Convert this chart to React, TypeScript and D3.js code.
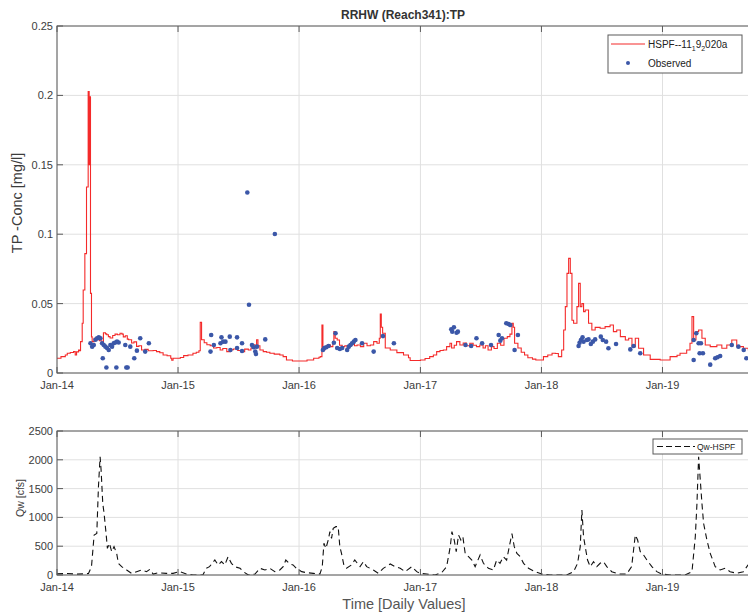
import React from "react";
import * as d3 from "d3";

// Daily series are indexed by day offset from 2014-01-01 (UTC).
const START = Date.UTC(2014, 0, 1);
const END_DAY = 2099;

// Simulated total phosphorus, HSPF run (day offset, mg/l)
const tpDay = [
  0, 12, 25, 31, 40, 50, 55, 59, 65, 68, 71, 76, 79, 84, 89, 94, 97, 99, 101, 104,
  106, 112, 120, 128, 135, 140, 146, 150, 155, 160, 168, 175, 182, 190, 196, 200, 206, 212, 216, 225,
  232, 240, 247, 255, 265, 275, 290, 300, 310, 320, 332, 343, 346, 350, 362,
  372, 382, 395, 410, 420, 428, 432, 436, 444, 452, 462, 472, 482, 492, 500, 512, 522, 532, 545, 557,
  566, 577, 585, 592, 597, 602, 606, 612, 622, 632, 642, 655, 672, 682, 692, 710,
  724, 754, 774, 790, 794, 799, 802, 808, 815, 825, 832, 835, 839, 845, 852, 860, 868, 875, 882, 890,
  897, 905, 915, 925, 935, 945, 955, 965, 972, 975, 978, 982, 990, 1005, 1025, 1045, 1060, 1065, 1096,
  1110, 1124, 1135, 1145, 1155, 1165, 1175, 1185, 1190, 1198, 1205, 1215, 1225, 1235, 1245, 1255, 1265,
  1275, 1285, 1292, 1300, 1310, 1318, 1328, 1338, 1348, 1358, 1366, 1372, 1376, 1380, 1390, 1400, 1410,
  1420, 1434, 1444,
  1467, 1480, 1493, 1503, 1512, 1522, 1528, 1533, 1538, 1543, 1548, 1553, 1558, 1568, 1573, 1578, 1583,
  1588, 1593, 1603, 1613, 1623, 1638, 1653, 1668, 1678, 1688, 1699, 1714, 1724, 1734, 1744, 1754, 1769,
  1789, 1819,
  1849, 1870, 1879, 1899, 1909, 1915, 1920, 1927, 1935, 1945, 1955, 1970, 1990, 2005, 2020, 2035, 2050,
  2070, 2085, 2099,
];
const tpValue = [
  0.0106, 0.0118, 0.013, 0.0142, 0.0148, 0.0154, 0.013, 0.0152, 0.0166, 0.016, 0.0226, 0.0358, 0.0598, 0.086, 0.134, 0.2027, 0.15, 0.199, 0.0574, 0.026,
  0.0226, 0.025, 0.024, 0.0232, 0.0216, 0.029, 0.0282, 0.0276, 0.0262, 0.0252, 0.027, 0.028, 0.0276, 0.0286, 0.028, 0.026, 0.0268, 0.0244, 0.024, 0.0216,
  0.0224, 0.0192, 0.0196, 0.0166, 0.017, 0.016, 0.0162, 0.0154, 0.0146, 0.013, 0.0124, 0.0106, 0.0092, 0.0106, 0.0106,
  0.0112, 0.0125, 0.013, 0.0142, 0.015, 0.016, 0.0365, 0.024, 0.0218, 0.0204, 0.0196, 0.018, 0.0184, 0.0166, 0.0176, 0.0154, 0.0168, 0.0173, 0.0162, 0.0154,
  0.0172, 0.0166, 0.018, 0.0204, 0.018, 0.024, 0.0196, 0.0166, 0.0154, 0.015, 0.0142, 0.0136, 0.013, 0.0118, 0.0094, 0.0086,
  0.0086, 0.0094, 0.0106, 0.0114, 0.0118, 0.0346, 0.0166, 0.019, 0.0202, 0.019, 0.022, 0.0298, 0.025, 0.0238, 0.02, 0.019, 0.0196, 0.018, 0.02, 0.0214,
  0.0196, 0.0202, 0.019, 0.0214, 0.0196, 0.0202, 0.0226, 0.0214, 0.025, 0.0425, 0.033, 0.0286, 0.018, 0.0166, 0.0147, 0.013, 0.011, 0.009, 0.0094,
  0.0104, 0.0118, 0.013, 0.0154, 0.0162, 0.0166, 0.019, 0.0214, 0.018, 0.02, 0.0226, 0.0202, 0.0216, 0.0196, 0.0214, 0.02, 0.019,
  0.0202, 0.018, 0.0196, 0.0166, 0.019, 0.0176, 0.0214, 0.02, 0.025, 0.0262, 0.028, 0.0358, 0.033, 0.0214, 0.018, 0.015, 0.013,
  0.011, 0.01, 0.0094,
  0.0118, 0.013, 0.0142, 0.014, 0.0118, 0.0166, 0.031, 0.0478, 0.0718, 0.0826, 0.0718, 0.038, 0.0358, 0.0478, 0.0646, 0.0478, 0.05,
  0.0442, 0.0454, 0.0358, 0.031, 0.0329, 0.0322, 0.0334, 0.0346, 0.0298, 0.031, 0.0262, 0.0238, 0.025, 0.019, 0.025, 0.0178, 0.013,
  0.0098, 0.0094,
  0.0118, 0.0128, 0.0142, 0.0166, 0.0214, 0.0406, 0.0238, 0.0298, 0.031, 0.025, 0.0202, 0.019, 0.0202, 0.0178, 0.0202, 0.0238, 0.019,
  0.0178, 0.0166, 0.0166,
];

// Observed TP samples (day offset, mg/l)
const obsDay = [
  101, 106, 111, 116, 121, 126, 131, 136, 141, 146, 151, 156, 161, 166, 171, 176, 181, 186, 138, 149,
  179, 209, 213, 206, 221, 233, 241, 251, 266, 277,
  465, 463, 473, 493, 496, 501, 508, 521, 523, 543, 543, 558, 558, 574, 579, 588, 593, 598, 600, 603, 628, 657,
  802, 806, 812, 819, 840, 835, 845, 853, 860, 875, 880, 885, 890, 895, 900, 920, 955, 983, 1016,
  1189, 1192, 1197, 1205, 1209, 1232, 1249, 1265, 1282, 1309, 1332, 1337, 1342, 1355, 1362, 1367, 1380, 1390,
  1573, 1576, 1580, 1585, 1588, 1598, 1603, 1610, 1616, 1623, 1640, 1646, 1656, 1663, 1686, 1729, 1739, 1759,
  1920, 1928, 1935, 1942, 1920, 1938, 1948, 1970, 1985, 1992, 2000, 2035, 2055, 2071, 2079,
];
const obsValue = [
  0.0214, 0.019, 0.0202, 0.024, 0.025, 0.0257, 0.025, 0.0214, 0.0202, 0.019, 0.018, 0.0166, 0.0202, 0.019, 0.0214, 0.022, 0.0226, 0.022, 0.0106, 0.004,
  0.004, 0.004, 0.004, 0.0202, 0.019, 0.0106, 0.0161, 0.025, 0.0154, 0.0214,
  0.0274, 0.0154, 0.0202, 0.0214, 0.0257, 0.0226, 0.0226, 0.0262, 0.0166, 0.0257, 0.018, 0.0214, 0.0159, 0.13, 0.0492, 0.0202, 0.0185, 0.0154, 0.0137, 0.019, 0.0242, 0.1001,
  0.0166, 0.018, 0.0185, 0.0194, 0.0286, 0.0218, 0.018, 0.0173, 0.018, 0.0166, 0.019, 0.0202, 0.0214, 0.0226, 0.0238, 0.0214, 0.0154, 0.0266, 0.0214,
  0.0315, 0.0298, 0.0329, 0.029, 0.0298, 0.0202, 0.0194, 0.025, 0.0214, 0.0202, 0.0274, 0.0233, 0.025, 0.0358, 0.0353, 0.0346, 0.0166, 0.0274,
  0.0195, 0.0218, 0.0238, 0.0257, 0.0226, 0.0238, 0.0242, 0.0209, 0.0226, 0.0242, 0.0262, 0.0238, 0.0226, 0.0178, 0.0209, 0.017, 0.0195, 0.0142,
  0.0238, 0.0286, 0.0214, 0.0214, 0.0094, 0.0142, 0.0142, 0.006, 0.0106, 0.0113, 0.0122, 0.0202, 0.019, 0.0166, 0.0106,
];

// Simulated flow, HSPF run (day offset, cfs)
const flowDay = [
  0, 30, 60, 95, 104, 112, 120, 125, 130, 133, 138, 142, 148, 152, 158, 165, 172, 180, 185, 195,
  210, 225, 240, 255, 270, 280, 290, 305, 330, 350, 370, 390, 410, 440, 450, 460, 476, 486, 496, 506,
  516, 526, 536, 552, 562, 577, 597, 612, 627, 642, 657, 672, 682, 690, 702, 712, 722, 738, 753, 773,
  793, 800, 805, 811, 818, 823, 828, 833, 841, 848, 853, 858, 865, 873, 888, 898, 914, 924, 934, 954,
  969, 984, 1005, 1020, 1035, 1050, 1070, 1085, 1095, 1115, 1140, 1160, 1175, 1186, 1191, 1198, 1204,
  1211, 1218, 1224, 1231, 1241, 1251, 1261, 1276, 1286, 1301, 1316, 1326, 1336, 1346, 1356, 1364, 1372,
  1379, 1387, 1397, 1407, 1422, 1442, 1462, 1487, 1537, 1558, 1570, 1578, 1583, 1588, 1593, 1600, 1608,
  1618, 1628, 1638, 1648, 1658, 1673, 1693, 1718, 1733, 1744, 1751, 1759, 1769, 1779, 1794, 1809, 1824,
  1849, 1894, 1915, 1925, 1930, 1935, 1940, 1945, 1950, 1960, 1970, 1985, 2000, 2015, 2030, 2050, 2070,
  2084, 2099,
];
const flowValue = [
  20, 25, 15, 25, 145, 694, 720, 1533, 2054, 1822, 1244, 1070, 720, 463, 550, 405, 492, 376, 203, 145,
  87, 29, 58, 87, 58, 98, 17, 40, 29, 29, 58, 17, 0, 0, 116, 145, 260, 174, 232, 174,
  318, 203, 145, 116, 58, 0, 17, 116, 87, 116, 58, 87, 145, 260, 191, 174, 116, 58, 40, 29,
  17, 145, 550, 463, 607, 752, 636, 810, 839, 839, 492, 376, 174, 116, 174, 260, 145, 232, 145, 87,
  29, 116, 191, 145, 116, 58, 145, 58, 29, 17, 0, 40, 145, 492, 752, 607, 405,
  694, 607, 665, 376, 318, 260, 145, 347, 203, 116, 87, 260, 203, 318, 260, 492, 720,
  492, 376, 318, 203, 116, 58, 17, 0, 0, 58, 203, 492, 1128, 665, 492, 260, 145,
  232, 145, 203, 232, 145, 58, 17, 17, 145, 694, 607, 405, 347, 260, 145, 58, 17,
  0, 0, 58, 665, 1244, 2054, 1649, 1244, 897, 607, 376, 145, 87, 116, 58, 29, 58,
  174, 200,
];

const tpTicks = [0, 0.05, 0.1, 0.15, 0.2, 0.25];
const flowTicks = [0, 500, 1000, 1500, 2000, 2500];
const yearTicks = [2014, 2015, 2016, 2017, 2018, 2019];

const W = 748;
const H = 615;
const LEFT = 57;
const RIGHT = 753;
const TOP1 = 26;
const BOT1 = 373;
const TOP2 = 431;
const BOT2 = 575;

const FONT = "'Liberation Sans', Arial, Helvetica, sans-serif";
const AXIS = "#5a5a5a";
const GRID = "#e0e0e0";
const TEXT = "#3c3c3c";
const RED = "#f42a2a";
const BLUE = "#3b57a8";

const dayDate = (d: number) => new Date(START + d * 86400000);

export default function App() {
  const x = d3.scaleUtc().domain([dayDate(0), dayDate(END_DAY)]).range([LEFT, RIGHT]);
  const y1 = d3.scaleLinear().domain([0, 0.25]).range([BOT1, TOP1]);
  const y2 = d3.scaleLinear().domain([0, 2500]).range([BOT2, TOP2]);
  const fmt = d3.utcFormat("%b-%y");
  const tickDates = yearTicks.map((yr) => new Date(Date.UTC(yr, 0, 1)));

  const tpLine = d3
    .line<number>()
    .x((_, i) => x(dayDate(tpDay[i])))
    .y((v) => y1(v))
    .curve(d3.curveStepAfter);
  const flowLine = d3
    .line<number>()
    .x((_, i) => x(dayDate(flowDay[i])))
    .y((v) => y2(v));

  const grid = (top: number, bottom: number, yScale: d3.ScaleLinear<number, number>, ticks: number[]) => (
    <g>
      {tickDates.map((d, i) => (
        <line key={"gx" + i} x1={x(d)} x2={x(d)} y1={top} y2={bottom} stroke={GRID} strokeWidth={1} />
      ))}
      {ticks.map((t, i) => (
        <line key={"gy" + i} x1={LEFT} x2={RIGHT} y1={yScale(t)} y2={yScale(t)} stroke={GRID} strokeWidth={1} />
      ))}
    </g>
  );

  const axes = (top: number, bottom: number, yScale: d3.ScaleLinear<number, number>, ticks: number[], labelY: number) => (
    <g>
      <rect x={LEFT} y={top} width={RIGHT - LEFT} height={bottom - top} fill="none" stroke={AXIS} strokeWidth={1} />
      {tickDates.map((d, i) => (
        <g key={"tx" + i}>
          <line x1={x(d)} x2={x(d)} y1={bottom} y2={bottom - 6} stroke={AXIS} />
          <line x1={x(d)} x2={x(d)} y1={top} y2={top + 6} stroke={AXIS} />
          <text x={x(d)} y={labelY} textAnchor="middle" fontSize={11} fill={TEXT} fontFamily={FONT}>
            {fmt(d)}
          </text>
        </g>
      ))}
      {ticks.map((t, i) => (
        <g key={"ty" + i}>
          <line x1={LEFT} x2={LEFT + 6} y1={yScale(t)} y2={yScale(t)} stroke={AXIS} />
          <text x={LEFT - 4} y={yScale(t) + 4} textAnchor="end" fontSize={11} fill={TEXT} fontFamily={FONT}>
            {String(t)}
          </text>
        </g>
      ))}
    </g>
  );

  return (
    <svg width={W} height={H} style={{ position: "absolute", left: 0, top: 0, background: "#fff" }}>
      <defs>
        <clipPath id="clipTop">
          <rect x={LEFT} y={TOP1} width={RIGHT - LEFT} height={BOT1 - TOP1} />
        </clipPath>
        <clipPath id="clipBottom">
          <rect x={LEFT} y={TOP2} width={RIGHT - LEFT} height={BOT2 - TOP2} />
        </clipPath>
      </defs>
      <rect x={0} y={0} width={W} height={H} fill="#fff" />

      {/* Upper panel: TP concentration */}
      {grid(TOP1, BOT1, y1, tpTicks)}
      <g clipPath="url(#clipTop)">
        <path d={tpLine(tpValue) || ""} fill="none" stroke={RED} strokeWidth={1.1} />
        {obsValue.map((v, i) => (
          <circle key={"o" + i} cx={x(dayDate(obsDay[i]))} cy={y1(v)} r={2.3} fill={BLUE} />
        ))}
      </g>
      {axes(TOP1, BOT1, y1, tpTicks, 389)}
      <text x={403} y={19} textAnchor="middle" fontSize={12} fontWeight="bold" fill="#333" fontFamily={FONT}>
        RRHW (Reach341):TP
      </text>
      <text transform="translate(22,203) rotate(-90)" textAnchor="middle" fontSize={14.5} fill={TEXT} fontFamily={FONT}>
        TP -Conc [mg/l]
      </text>

      {/* Upper legend */}
      <rect x={608} y={35} width={134} height={38} fill="#fff" stroke={AXIS} strokeWidth={1} />
      <line x1={611} x2={645} y1={44} y2={44} stroke={RED} strokeWidth={1.1} />
      <text x={648} y={48} fontSize={10} fill="#222" fontFamily={FONT}>
        HSPF--11<tspan fontSize={7} dy={3}>1</tspan>
        <tspan dy={-3}>9</tspan>
        <tspan fontSize={7} dy={3}>2</tspan>
        <tspan dy={-3}>020a</tspan>
      </text>
      <circle cx={628} cy={63} r={2} fill={BLUE} />
      <text x={648} y={67} fontSize={10} fill="#222" fontFamily={FONT}>
        Observed
      </text>

      {/* Lower panel: flow */}
      {grid(TOP2, BOT2, y2, flowTicks)}
      <g clipPath="url(#clipBottom)">
        <path d={flowLine(flowValue) || ""} fill="none" stroke="#111" strokeWidth={1.1} strokeDasharray="6,4" />
      </g>
      {axes(TOP2, BOT2, y2, flowTicks, 591)}
      <text transform="translate(24,498) rotate(-90)" textAnchor="middle" fontSize={10.5} fill={TEXT} fontFamily={FONT}>
        Qw [cfs]
      </text>
      <text x={404} y={609} textAnchor="middle" fontSize={14.5} fill="#555" fontFamily={FONT}>
        Time [Daily Values]
      </text>

      {/* Lower legend */}
      <rect x={653} y={439} width={89} height={15} fill="#fff" stroke={AXIS} strokeWidth={1} />
      <line x1={657} x2={695} y1={446.5} y2={446.5} stroke="#111" strokeWidth={1} strokeDasharray="6,3" />
      <text x={697} y={450} fontSize={8.5} fill="#222" fontFamily={FONT}>
        Qw-HSPF
      </text>
    </svg>
  );
}
